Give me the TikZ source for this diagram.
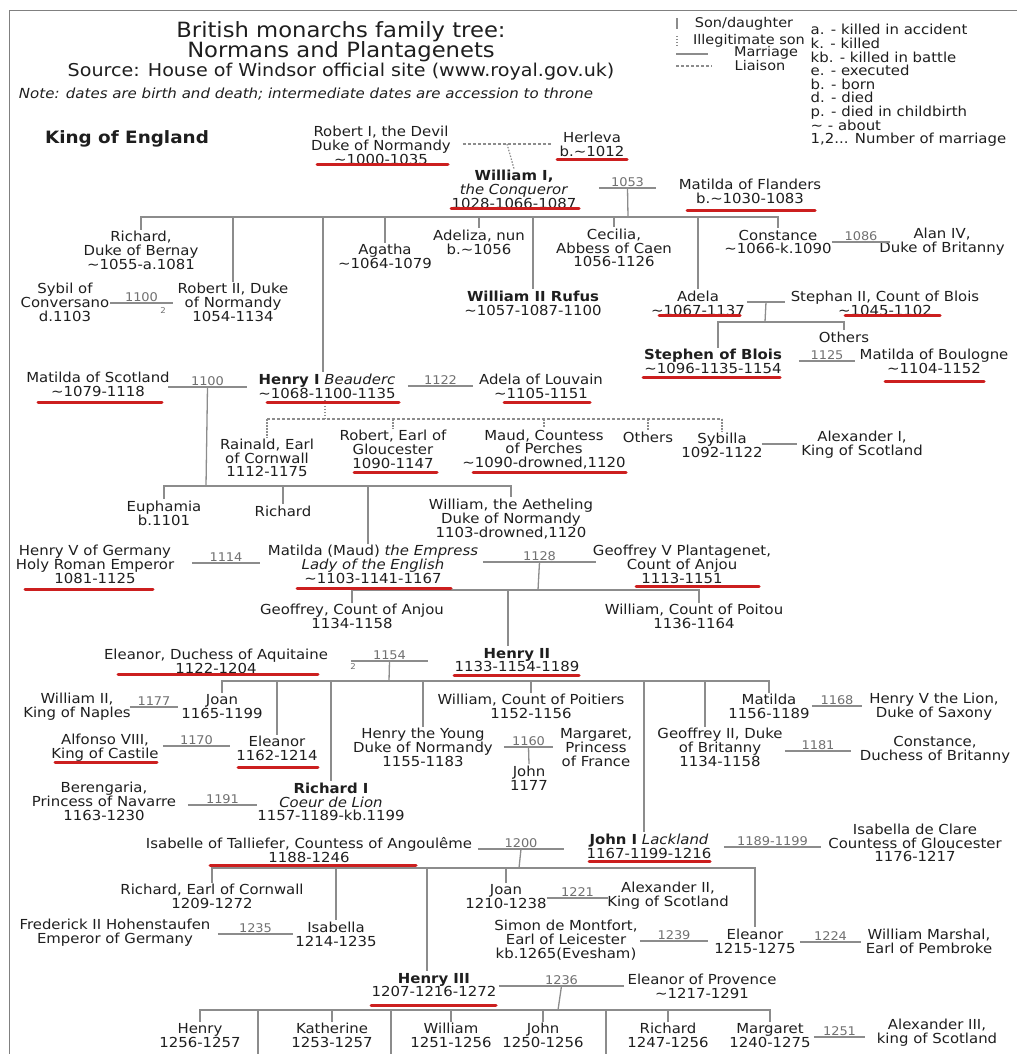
\documentclass[tikz,border=0pt]{standalone}
\usepackage{fontspec}
\setmainfont{DejaVu Sans}[FakeStretch=1.08]
\definecolor{linegray}{HTML}{8C8C8C}
\definecolor{dategray}{HTML}{707070}
\definecolor{ulred}{HTML}{CC1F1F}
\definecolor{ink}{HTML}{1E1E1E}
\newcommand\abt{\textasciitilde}

\tikzset{
  pers/.style={align=center, inner sep=1.5pt, text=ink, font=\fontsize{13.8}{13.8}\selectfont},
  conn/.style={draw=linegray, line width=1.3pt},
  liais/.style={draw=linegray, line width=1.2pt, dash pattern=on 3pt off 2pt},
  illeg/.style={draw=linegray, line width=1.2pt, dash pattern=on 1.5pt off 1.5pt},
  marr/.style={anchor=south, inner sep=1pt, minimum width=#1, text=dategray, font=\fontsize{12}{12}\selectfont},
  nth/.style={inner sep=0pt, text=dategray, font=\fontsize{8}{8}\selectfont},
  redline/.style={draw=ulred, line width=3pt, line cap=round},
  framel/.style={draw=gray, line width=1pt},
}

\begin{document}
\begin{tikzpicture}[x=1pt, y=-1pt]
\useasboundingbox (0,0) rectangle (1023,1054);
\draw[framel] (9,1054) -- (9,11) -- (1017,11);

% heading
\node[pers, font=\fontsize{21}{21}\selectfont] (tt1) at (341,32) {British monarchs family tree:};
\node[pers, font=\fontsize{21}{21}\selectfont] (tt2) at (341,52) {Normans and Plantagenets};
\node[pers, font=\fontsize{17.7}{17.7}\selectfont] (tt3) at (341,72) {Source: House of Windsor official site (www.royal.gov.uk)};
\node[pers, font=\fontsize{13.9}{13.9}\selectfont\itshape] (note) at (306,94) {Note: dates are birth and death; intermediate dates are accession to throne};
\node[pers, font=\fontsize{17}{17}\selectfont\bfseries] (king) at (127,139) {King of England};

% legend
\draw[conn] (677,18) -- (677,29);
\draw[illeg] (677,36) -- (677,47);
\draw[conn] (676,54) -- (708,54);
\draw[liais] (676,66) -- (712,66);
\node[pers, font=\fontsize{13.4}{13.4}\selectfont] (lson) at (744,24) {Son/daughter};
\node[pers, font=\fontsize{13.4}{13.4}\selectfont] (lill) at (749,41) {Illegitimate son};
\node[pers, font=\fontsize{13.4}{13.4}\selectfont] (lmar) at (766,53) {Marriage};
\node[pers, font=\fontsize{13.4}{13.4}\selectfont] (llia) at (760,66) {Liaison};
\node[pers, align=left, anchor=west, font=\fontsize{13.8}{13.6}\selectfont] (abbr) at (809,85.5)
  {a. - killed in accident\\k. - killed\\kb. - killed in battle\\e. - executed\\b. - born\\d. - died\\p. - died in childbirth\\\abt{} - about\\1,2... Number of marriage};

% Normans
\node[pers] (rob1) at (381,145.5) {Robert I, the Devil\\Duke of Normandy\\\abt1000-1035};
\node[pers] (herl) at (592,144) {Herleva\\b.\abt1012};
\node[marr=88] (lia1) at (507,144) {};
\node[pers] (wm1) at (514,189.5) {\textbf{William I,}\\\textit{the Conqueror}\\1028-1066-1087};
\node[marr=57] (m1053) at (627.5,188) {1053};
\node[pers] (matf) at (750,191) {Matilda of Flanders\\b.\abt1030-1083};
\coordinate (b1053) at (628,217);

\node[pers] (richb) at (141,250.5) {Richard,\\Duke of Bernay\\\abt1055-a.1081};
\node[pers] (agat) at (385,256.5) {Agatha\\\abt1064-1079};
\node[pers] (adel) at (479,242) {Adeliza, nun\\b.\abt1056};
\node[pers] (ceci) at (614,248) {Cecilia,\\Abbess of Caen\\1056-1126};
\node[pers] (cons) at (778,242) {Constance\\\abt1066-k.1090};
\node[marr=58] (m1086) at (861,242) {1086};
\node[pers] (alan) at (942,242) {Alan IV,\\Duke of Britanny};

\node[pers] (sybil) at (65,302.5) {Sybil of\\Conversano\\d.1103};
\node[marr=63] (m1100a) at (141.5,303) {1100};
\node[nth] (n2a) at (163,311) {2};
\node[pers] (rob2) at (233,302.5) {Robert II, Duke\\of Normandy\\1054-1134};
\node[pers] (rufus) at (533,303) {\textbf{William II Rufus}\\\abt1057-1087-1100};
\node[pers] (adela) at (698,303) {Adela\\\abt1067-1137};
\node[marr=38] (mab) at (766,302) {};
\node[pers] (steph) at (885,303) {Stephan II, Count of Blois\\\abt1045-1102};
\coordinate (bab) at (765,322);
\node[pers] (oth1) at (844,337) {Others};
\node[pers] (stepb) at (713,361.5) {\textbf{Stephen of Blois}\\\abt1096-1135-1154};
\node[marr=56] (m1125) at (827,361) {1125};
\node[pers] (matb) at (934,361.5) {Matilda of Boulogne\\\abt1104-1152};

% Henry I
\node[pers] (mats) at (98,384.5) {Matilda of Scotland\\\abt1079-1118};
\node[marr=79] (m1100b) at (207.5,387) {1100};
\node[pers] (hen1) at (327,386) {\textbf{Henry I} \textit{Beauderc}\\\abt1068-1100-1135};
\node[marr=65] (m1122) at (440.5,386) {1122};
\node[pers] (adlv) at (541,386) {Adela of Louvain\\\abt1105-1151};
\coordinate (ill) at (325,419);
\node[pers] (rain) at (267,458) {Rainald, Earl\\of Cornwall\\1112-1175};
\node[pers] (robg) at (393,449.5) {Robert, Earl of\\Gloucester\\1090-1147};
\node[pers] (maud) at (544,449.5) {Maud, Countess\\of Perches\\\abt1090-drowned,1120};
\node[pers] (oth2) at (648,437) {Others};
\node[pers] (syb) at (722,445) {Sybilla\\1092-1122};
\node[marr=35] (msa) at (779.5,444) {};
\node[pers] (alex1) at (862,445) {Alexander I,\\King of Scotland};
\coordinate (b1100) at (206,486);
\node[pers] (euph) at (164,513) {Euphamia\\b.1101};
\node[pers] (rich2) at (283,511) {Richard};
\node[pers] (aeth) at (511,519) {William, the Aetheling\\Duke of Normandy\\1103-drowned,1120};

% Plantagenets
\node[pers] (hen5) at (95,564.5) {Henry V of Germany\\Holy Roman Emperor\\1081-1125};
\node[marr=68] (m1114) at (226,563) {1114};
\node[pers] (maud2) at (373,564.5) {Matilda (Maud) \textit{the Empress}\\\textit{Lady of the English}\\\abt1103-1141-1167};
\node[marr=113] (m1128) at (539.5,562) {1128};
\node[pers] (geo5) at (682,564.5) {Geoffrey V Plantagenet,\\Count of Anjou\\1113-1151};
\coordinate (b1128) at (538,590);
\node[pers] (geoa) at (352,616.5) {Geoffrey, Count of Anjou\\1134-1158};
\node[pers] (wpoi) at (694,616.5) {William, Count of Poitou\\1136-1164};

% Henry II
\node[pers] (elaq) at (216,661.5) {Eleanor, Duchess of Aquitaine\\1122-1204};
\node[marr=77] (m1154) at (389.5,661) {1154};
\node[nth] (n2b) at (353,667) {2};
\node[pers] (hen2) at (517,660) {\textbf{Henry II}\\1133-1154-1189};
\coordinate (b1154) at (389,681);
\node[pers] (wil2) at (77,706.5) {William II,\\King of Naples};
\node[marr=48] (m1177) at (154,707) {1177};
\node[pers] (joan1) at (222,706.5) {Joan\\1165-1199};
\node[pers] (alf) at (105,748) {Alfonso VIII,\\King of Castile};
\node[marr=67] (m1170) at (196.5,746) {1170};
\node[pers] (ele2) at (277,748.5) {Eleanor\\1162-1214};
\node[pers] (wpoit) at (531,706.5) {William, Count of Poitiers\\1152-1156};
\node[pers] (heny) at (423,747.5) {Henry the Young\\Duke of Normandy\\1155-1183};
\node[marr=49] (m1160) at (528.5,747) {1160};
\node[pers] (john0) at (529,778) {John\\1177};
\node[pers] (marg1) at (596,747.5) {Margaret,\\Princess\\of France};
\node[pers] (matl2) at (769,706.5) {Matilda\\1156-1189};
\node[marr=50] (m1168) at (837,706) {1168};
\node[pers] (henl) at (934,706.5) {Henry V the Lion,\\Duke of Saxony};
\node[pers] (geo2) at (720,747.5) {Geoffrey II, Duke\\of Britanny\\1134-1158};
\node[marr=66] (m1181) at (818,751) {1181};
\node[pers] (consb) at (935,750) {Constance,\\Duchess of Britanny};
\node[pers] (bere) at (104,801.5) {Berengaria,\\Princess of Navarre\\1163-1230};
\node[marr=69] (m1191) at (222.5,805) {1191};
\node[pers] (ric1) at (331,802) {\textbf{Richard I}\\\textit{Coeur de Lion}\\1157-1189-kb.1199};

% John I
\node[pers] (isat) at (309,850) {Isabelle of Talliefer, Countess of Angoulême\\1188-1246};
\node[marr=86] (m1200) at (521,849) {1200};
\node[pers] (john1) at (649,846) {\textbf{John I} \textit{Lackland}\\1167-1199-1216};
\node[marr=97] (m1189) at (772.5,847) {1189-1199};
\node[pers] (isac) at (915,843) {Isabella de Clare\\Countess of Gloucester\\1176-1217};
\coordinate (b1200) at (519,868);
\node[pers] (ricc) at (212,896.5) {Richard, Earl of Cornwall\\1209-1272};
\node[pers] (fred) at (115,933) {Frederick II Hohenstaufen\\Emperor of Germany};
\node[marr=75] (m1235) at (255.5,934) {1235};
\node[pers] (isab) at (336,934) {Isabella\\1214-1235};
\node[pers] (joan2) at (506,896.5) {Joan\\1210-1238};
\node[marr=61] (m1221) at (577.5,898) {1221};
\node[pers] (alex2) at (668,896) {Alexander II,\\King of Scotland};
\node[pers] (simon) at (566,940) {Simon de Montfort,\\Earl of Leicester\\kb.1265(Evesham)};
\node[marr=68] (m1239) at (674,941) {1239};
\node[pers] (ele3) at (755,941) {Eleanor\\1215-1275};
\node[marr=61] (m1224) at (830.5,942) {1224};
\node[pers] (wmar) at (929,941) {William Marshal,\\Earl of Pembroke};

% Henry III
\node[pers] (hen3) at (434,985) {\textbf{Henry III}\\1207-1216-1272};
\node[marr=125] (m1236) at (561.5,986) {1236};
\node[pers] (elep) at (702,986) {Eleanor of Provence\\\abt1217-1291};
\coordinate (b1236) at (558,1010);
\node[pers] (henr) at (200,1035.5) {Henry\\1256-1257};
\node[pers] (kath) at (332,1035.5) {Katherine\\1253-1257};
\node[pers] (wil3) at (451,1035.5) {William\\1251-1256};
\node[pers] (john3) at (543,1035.5) {John\\1250-1256};
\node[pers] (rich3) at (668,1035.5) {Richard\\1247-1256};
\node[pers] (marg3) at (770,1035.5) {Margaret\\1240-1275};
\node[marr=51] (m1251) at (839.5,1037) {1251};
\node[pers] (alex3) at (937,1033) {Alexander III,\\king of Scotland};
\coordinate (cut1) at (258,1054);
\coordinate (cut2) at (391,1054);
\coordinate (cut3) at (606,1054);

% marriage lines
\foreach \m in {m1053, m1086, m1100a, mab, m1125, m1100b, m1122, msa, m1114, m1128, m1154,
  m1177, m1170, m1160, m1168, m1181, m1191, m1200, m1189, m1235, m1221, m1239, m1224, m1236, m1251}
  \draw[conn] (\m.south west) -- (\m.south east);

% liaisons
\draw[liais] (lia1.south west) -- (lia1.south east);
\draw[illeg] (lia1.south) -- (wm1.north);
\draw[illeg] (ill |- hen1.south) -- (ill);
\draw[liais] (ill -| rain.north) -- (ill -| syb.north);
\foreach \c in {rain, robg, maud, oth2, syb}
  \draw[illeg] (ill -| \c.north) -- (\c.north);

% children
\draw[conn] (m1053.south) -- (b1053);
\foreach \c in {richb, rob2, agat, adel, rufus, ceci, adela, cons}
  \draw[conn] (b1053) -| (\c.north);
\draw[conn] (b1053) -| ([xshift=-4pt]hen1.north);

\draw[conn] (mab.south) -- (bab);
\draw[conn] (bab) -| ([xshift=5pt]stepb.north);
\draw[conn] (bab) -| (oth1.north);

\draw[conn] (m1100b.south) -- (b1100);
\foreach \c in {euph, rich2, aeth}
  \draw[conn] (b1100) -| (\c.north);
\draw[conn] (b1100) -| ([xshift=-5pt]maud2.north);

\draw[conn] (m1128.south) -- (b1128);
\draw[conn] (b1128) -| (geoa.north);
\draw[conn] (b1128) -| ([xshift=5pt]wpoi.north);
\draw[conn] (b1128) -| ([xshift=-9pt]hen2.north);

\draw[conn] (m1154.south) -- (b1154);
\foreach \c in {joan1, ele2, ric1, heny, wpoit, matl2}
  \draw[conn] (b1154) -| (\c.north);
\draw[conn] (b1154) -| ([xshift=-5pt]john1.north);
\draw[conn] (b1154) -| ([xshift=-15pt]geo2.north);
\draw[conn] (m1160.south) -- (john0.north);

\draw[conn] (m1200.south) -- (b1200);
\foreach \c in {ricc, isab, joan2, ele3}
  \draw[conn] (b1200) -| (\c.north);
\draw[conn] (b1200) -| ([xshift=-7pt]hen3.north);

\draw[conn] (m1236.south) -- (b1236);
\foreach \c in {henr, kath, wil3, john3, rich3, marg3}
  \draw[conn] (b1236) -| (\c.north);
\foreach \c in {cut1, cut2, cut3}
  \draw[conn] (b1236) -| (\c);

% kings and queens underlined
\foreach \xa/\xb/\y in {317/448/164.5, 557/627/159.5, 451/579/208.5, 687/815/210.5, 659/740/315.5,
  845/940/315.5, 643/780/377.5, 885/984/381.5, 38/162/402.5, 267/399/402.5, 504/590/402.5,
  354/437/472.5, 473/626/472.5, 25/153/589.5, 297/451/588.5, 636/759/586.5, 118/318/674.5,
  454/579/675.5, 55/157/762.5, 238/318/767.5, 210/416/865, 589/710/861.5, 371/496/1005.5}
  \draw[redline] (\xa,\y) -- (\xb,\y);
\end{tikzpicture}
\end{document}
